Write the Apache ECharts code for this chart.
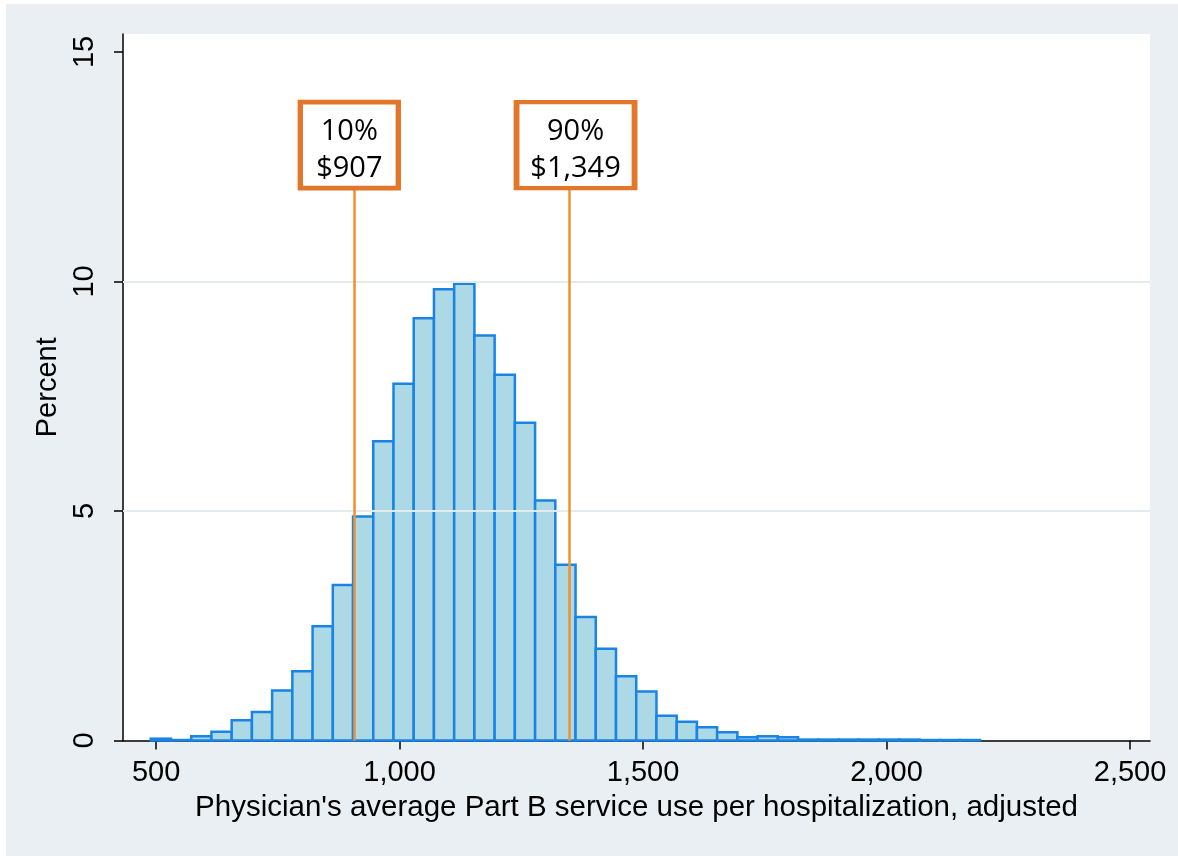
<!DOCTYPE html>
<html>
<head>
<meta charset="utf-8">
<script src="https://cdn.jsdelivr.net/npm/echarts@6/dist/echarts.min.js"></script>
<style>
  html, body { margin: 0; padding: 0; background: #fff; }
  #chart { position: absolute; left: 6px; top: 4px; width: 1172px; height: 852px; }
</style>
</head>
<body>
<div id="chart"></div>
<script>
// histogram bins: start of first bin and bin width (dollars)
const binStart = 489;
const binWidth = 41.54;
// percent of physicians in each bin
const percents = [
  0.04, 0.01, 0.09, 0.19, 0.44, 0.62, 1.09, 1.51, 2.49, 3.39,
  4.88, 6.52, 7.77, 9.20, 9.83, 9.95, 8.82, 7.97, 6.92, 5.23,
  3.83, 2.69, 2.00, 1.40, 1.07, 0.54, 0.41, 0.29, 0.18, 0.07,
  0.09, 0.07, 0.02, 0.02, 0.02, 0.02, 0.02, 0.02, 0.01, 0.01, 0.01
];
const xTicks = [500, 1000, 1500, 2000, 2500];
const yTicks = [0, 5, 10, 15];
const gridValues = [5, 10];
// percentile markers
const pctLabels = ["10%", "90%"];
const pctValues = [907, 1349];

const font = "'Liberation Sans', Arial, sans-serif";
const boxFont = "'Open Sans', 'Noto Sans', sans-serif";

const chart = echarts.init(document.getElementById("chart"));

const histData = percents.map((p, i) => [binStart + i * binWidth, binStart + (i + 1) * binWidth, p]);

const option = {
  backgroundColor: "#e9eff2",
  animation: false,
  grid: {
    show: true,
    backgroundColor: "#fff",
    borderWidth: 0,
    left: 117,
    top: 30,
    right: 28,
    bottom: 115.5,
  },
  xAxis: {
    type: "value",
    min: 432,
    max: 2541,
    name: "Physician's average Part B service use per hospitalization, adjusted",
    nameLocation: "middle",
    nameGap: 48,
    nameTextStyle: { color: "#000", fontSize: 29.5, fontFamily: font },
    axisLine: { show: true, onZero: false, lineStyle: { color: "#000", width: 1.5 } },
    axisTick: { show: true, length: 9, customValues: xTicks, lineStyle: { color: "#000", width: 1.5 } },
    axisLabel: {
      customValues: xTicks,
      margin: 18,
      color: "#000",
      fontSize: 29,
      fontFamily: font,
      formatter: (v) => Number(v).toLocaleString("en-US"),
    },
    splitLine: { show: false },
  },
  yAxis: {
    type: "value",
    min: 0,
    max: 15.39,
    name: "Percent",
    nameLocation: "middle",
    nameGap: 45,
    nameTextStyle: { color: "#000", fontSize: 29, fontFamily: font },
    axisLine: { show: true, lineStyle: { color: "#000", width: 1.5 } },
    axisTick: { show: true, length: 9, customValues: yTicks, lineStyle: { color: "#000", width: 1.5 } },
    axisLabel: {
      customValues: yTicks,
      rotate: 90,
      margin: 24,
      color: "#000",
      fontSize: 29,
      fontFamily: font,
    },
    splitLine: { show: false },
  },
  series: [
    {
      // horizontal grid lines behind the bars
      type: "line",
      data: [],
      z: 1,
      silent: true,
      markLine: {
        silent: true,
        symbol: "none",
        label: { show: false },
        lineStyle: { color: "#e2ebee", width: 2, type: "solid" },
        data: gridValues.map((v) => ({ yAxis: v })),
      },
    },
    {
      type: "custom",
      z: 2,
      data: histData,
      renderItem: (params, api) => {
        const lo = api.coord([api.value(0), api.value(2)]);
        const hi = api.coord([api.value(1), 0]);
        return {
          type: "rect",
          shape: { x: lo[0], y: lo[1], width: hi[0] - lo[0], height: hi[1] - lo[1] },
          style: { fill: "#add8e6", stroke: "#1a84e4", lineWidth: 2.5 },
        };
      },
    },
    {
      // percentile lines and labels
      type: "line",
      data: [],
      z: 3,
      silent: true,
      markLine: {
        silent: true,
        symbol: "none",
        label: { show: false },
        lineStyle: { color: "#f0912d", width: 2.5, type: "solid" },
        data: pctValues.map((v) => [{ coord: [v, 0] }, { coord: [v, 12] }]),
      },
      markPoint: {
        silent: true,
        symbol: "rect",
        itemStyle: { color: "#fff", borderColor: "#e2762b", borderWidth: 5 },
        label: {
          show: true,
          position: "inside",
          color: "#000",
          fontSize: 29,
          lineHeight: 37,
          fontFamily: boxFont,
        },
        data: pctValues.map((v, i) => ({
          coord: [v, 12.97],
          symbolSize: [i === 0 ? 98 : 118, 86],
          symbolOffset: [i === 0 ? -5 : 6, 0],
          label: {
            formatter: pctLabels[i] + "\n$" + v.toLocaleString("en-US"),
            offset: [0, 5],
          },
        })),
      },
    },
  ],
};

chart.setOption(option);
</script>
</body>
</html>
